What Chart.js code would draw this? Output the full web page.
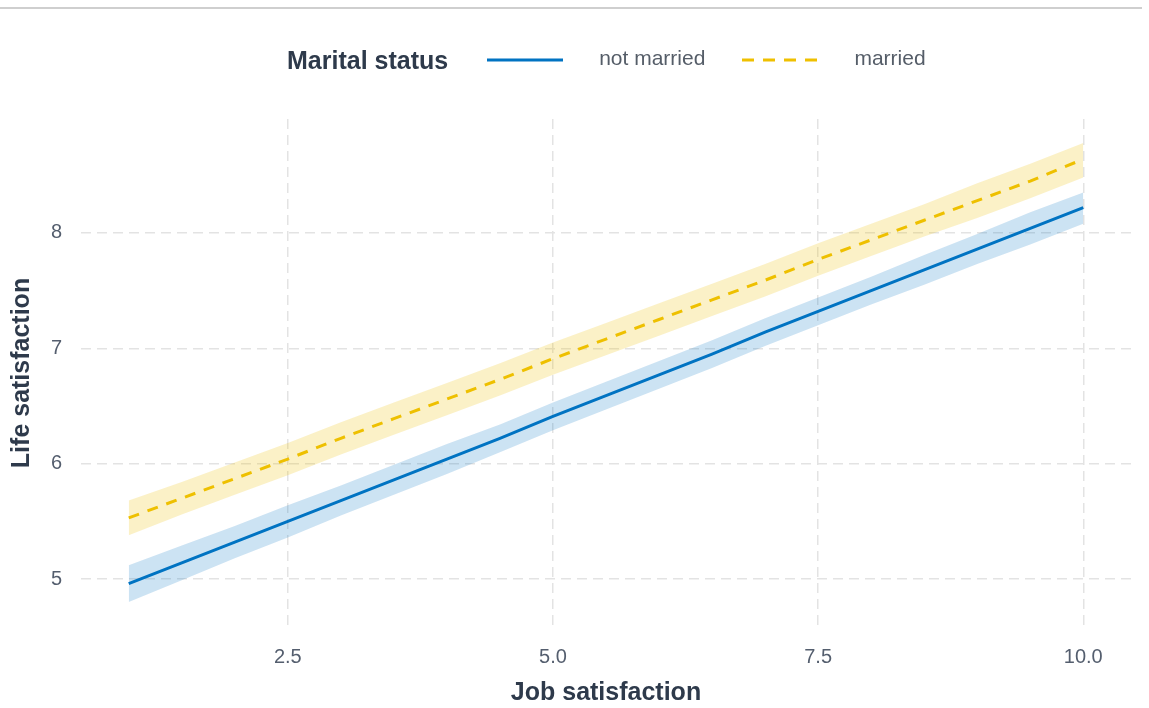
<!DOCTYPE html>
<html>
<head>
<meta charset="utf-8">
<script src="https://cdn.jsdelivr.net/npm/chart.js@4/dist/chart.umd.min.js"></script>
<style>
  html, body { margin: 0; padding: 0; background: #fff; }
  #wrap { position: relative; width: 1149px; height: 708px; overflow: hidden; }
  #topRule { position: absolute; left: 0; top: 7px; width: 1142px; height: 2px; background: #cfcfcf; }
  #legend { position: absolute; left: 287px; top: 44px; height: 32px; display: flex; align-items: center;
            font-family: 'Liberation Sans', Arial, sans-serif; }
  #legend .title { font-weight: bold; font-size: 25px; color: #2e3a4b; margin-right: 39px; }
  #legend .item { display: flex; align-items: center; margin-right: 37px; }
  #legend .item svg { margin-right: 36px; }
  #legend .label { font-size: 21px; color: #555d68; position: relative; top: -2px; }
  canvas { position: absolute; left: 0; top: 0; }
</style>
</head>
<body>
<div id="wrap">
  <div id="topRule"></div>
  <canvas id="chart" width="1149" height="708"></canvas>
  <div id="legend"></div>
</div>
<script>
// Job satisfaction grid and predicted life satisfaction with 95% bands
const jobSat = [1, 1.5, 2, 2.5, 3, 3.5, 4, 4.5, 5, 5.5, 6, 6.5, 7, 7.5, 8, 8.5, 9, 9.5, 10];

const notMarriedFit   = [4.96, 5.14, 5.32, 5.50, 5.68, 5.86, 6.04, 6.22, 6.41, 6.59, 6.77, 6.95, 7.14, 7.32, 7.50, 7.68, 7.86, 8.04, 8.22];
const notMarriedLower = [4.80, 4.99, 5.18, 5.36, 5.55, 5.73, 5.91, 6.10, 6.29, 6.47, 6.65, 6.83, 7.02, 7.20, 7.38, 7.55, 7.73, 7.90, 8.08];
const notMarriedUpper = [5.12, 5.29, 5.46, 5.64, 5.81, 5.99, 6.17, 6.34, 6.53, 6.71, 6.89, 7.07, 7.26, 7.44, 7.62, 7.81, 7.99, 8.18, 8.35];

const marriedFit   = [5.53, 5.70, 5.87, 6.04, 6.22, 6.39, 6.56, 6.73, 6.91, 7.08, 7.25, 7.42, 7.59, 7.77, 7.94, 8.11, 8.28, 8.45, 8.64];
const marriedLower = [5.38, 5.56, 5.73, 5.90, 6.08, 6.25, 6.42, 6.59, 6.77, 6.94, 7.11, 7.28, 7.45, 7.63, 7.80, 7.97, 8.13, 8.30, 8.48];
const marriedUpper = [5.68, 5.84, 6.01, 6.18, 6.36, 6.53, 6.70, 6.87, 7.05, 7.22, 7.39, 7.56, 7.73, 7.91, 8.08, 8.25, 8.43, 8.60, 8.78];

const groupNames = ['not married', 'married'];
const xTickValues = [2.5, 5, 7.5, 10];
const xTickLabels = ['2.5', '5.0', '7.5', '10.0'];
const yTickValues = [5, 6, 7, 8];
const yTickLabels = ['5', '6', '7', '8'];

const BLUE = '#0073C2';
const GOLD = '#EFC000';
const BLUE_BAND = 'rgba(0,115,194,0.20)';
const GOLD_BAND = 'rgba(239,192,0,0.22)';

const pts = ys => ys.map((y, i) => ({ x: jobSat[i], y }));

const bandEdge = (data, fill, color) => ({
  data: pts(data), borderWidth: 0, pointRadius: 0, fill: fill,
  backgroundColor: color, borderColor: 'transparent', tension: 0
});

const datasets = [
  bandEdge(notMarriedLower, false, BLUE_BAND),
  bandEdge(notMarriedUpper, '-1', BLUE_BAND),
  bandEdge(marriedLower, false, GOLD_BAND),
  bandEdge(marriedUpper, '-1', GOLD_BAND),
  { label: groupNames[0], data: pts(notMarriedFit), borderColor: BLUE, borderWidth: 3,
    pointRadius: 0, fill: false, tension: 0 },
  { label: groupNames[1], data: pts(marriedFit), borderColor: GOLD, borderWidth: 3,
    borderDash: [11, 9], borderCapStyle: 'butt', pointRadius: 0, fill: false, tension: 0 }
];

const FONT = "'Liberation Sans', Arial, sans-serif";
Chart.defaults.font.family = FONT;

const gridStyle = { color: '#e3e3e3', lineWidth: 1.5, drawTicks: false };
const borderStyle = { display: false, dash: [10, 6] };

new Chart(document.getElementById('chart'), {
  type: 'line',
  data: { datasets },
  options: {
    responsive: false,
    animation: false,
    layout: { padding: { top: 119, right: 18, left: 0, bottom: 0 } },
    plugins: { legend: { display: false }, tooltip: { enabled: false } },
    scales: {
      x: {
        type: 'linear', min: 0.55, max: 10.45,
        grid: gridStyle, border: borderStyle,
        afterBuildTicks: s => { s.ticks = xTickValues.map(v => ({ value: v })); },
        afterFit: s => { s.height = 81; },
        ticks: {
          padding: 18, color: '#545e6e', font: { size: 20 },
          callback: v => xTickLabels[xTickValues.indexOf(v)]
        },
        title: { display: true, text: 'Job satisfaction', color: '#2e3a4b',
                 font: { size: 25, weight: 'bold' }, padding: { top: 0, bottom: 0 } }
      },
      y: {
        type: 'linear', min: 4.584, max: 8.988,
        grid: gridStyle, border: borderStyle,
        afterBuildTicks: s => { s.ticks = yTickValues.map(v => ({ value: v })); },
        afterFit: s => { s.width = 81; },
        ticks: {
          padding: 19, color: '#545e6e', font: { size: 20 },
          callback: v => yTickLabels[yTickValues.indexOf(v)]
        },
        title: { display: true, text: 'Life satisfaction', color: '#2e3a4b',
                 font: { size: 25, weight: 'bold' }, padding: { top: 7, bottom: 0 } }
      }
    }
  }
});

// Legend row: title followed by a line sample and label per group
const legend = document.getElementById('legend');
const title = document.createElement('span');
title.className = 'title';
title.textContent = 'Marital status';
legend.appendChild(title);
[[groupNames[0], BLUE, ''], [groupNames[1], GOLD, '12 9']].forEach(([name, color, dash]) => {
  const item = document.createElement('span');
  item.className = 'item';
  item.innerHTML =
    '<svg width="76" height="6"><line x1="0" y1="3" x2="76" y2="3" stroke="' + color +
    '" stroke-width="3"' + (dash ? ' stroke-dasharray="' + dash + '"' : '') + '/></svg>';
  const lab = document.createElement('span');
  lab.className = 'label';
  lab.textContent = name;
  item.appendChild(lab);
  legend.appendChild(item);
});
</script>
</body>
</html>
